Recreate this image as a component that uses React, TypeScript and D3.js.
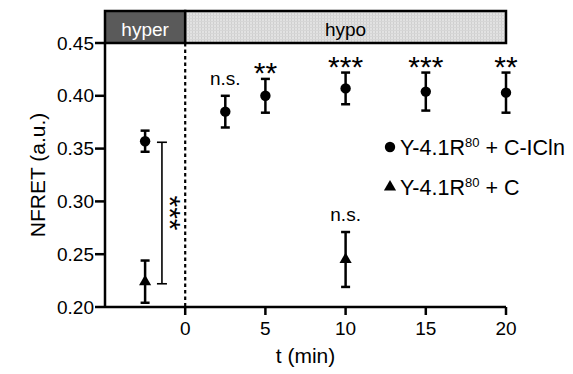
import React from "react";
import * as d3 from "d3";

const circleTimes = [-2.5, 2.5, 5, 10, 15, 20];
const circleMeans = [0.357, 0.385, 0.4, 0.407, 0.404, 0.403];
const circleErrs = [0.01, 0.015, 0.016, 0.015, 0.018, 0.019];
const circleLabels = ["", "n.s.", "**", "***", "***", "**"];

const triTimes = [-2.5, 10];
const triMeans = [0.224, 0.245];
const triErrs = [0.02, 0.026];
const triLabels = ["", "n.s."];

const yTicks = [0.2, 0.25, 0.3, 0.35, 0.4, 0.45];
const xTicks = [0, 5, 10, 15, 20];

const phases = [
  { name: "hyper", start: -5, end: 0 },
  { name: "hypo", start: 0, end: 20 },
];

const bracket = { t: -1.45, top: 0.356, bottom: 0.222, label: "***" };

const legendItems = ["C-ICln", "C"];

const FONT = "'Liberation Sans', Arial, sans-serif";

export default function App() {
  const x = d3.scaleLinear().domain([-5, 20]).range([105, 506]);
  const y = d3.scaleLinear().domain([0.2, 0.45]).range([307, 43]);
  const barTop = 11;
  const cap = 4.5;
  const tri = d3.symbol().type(d3.symbolTriangle).size(64)() as string;

  const errBar = (t: number, m: number, e: number, k: string) => (
    <g key={k} stroke="#000" strokeWidth={2.5}>
      <line x1={x(t)} x2={x(t)} y1={y(m + e)} y2={y(m - e)} />
      <line x1={x(t) - cap} x2={x(t) + cap} y1={y(m + e)} y2={y(m + e)} />
      <line x1={x(t) - cap} x2={x(t) + cap} y1={y(m - e)} y2={y(m - e)} />
    </g>
  );

  const label = (t: number, m: number, e: number, s: string, k: string) => {
    if (!s) return null;
    const top = y(m + e);
    if (s === "n.s.")
      return (
        <text key={k} x={x(t)} y={top - 11} textAnchor="middle" fontSize={19}>
          {s}
        </text>
      );
    return (
      <text key={k} x={x(t)} y={top + 4} textAnchor="middle" fontSize={30}>
        {s}
      </text>
    );
  };

  return (
    <svg
      width={573}
      height={374}
      style={{ position: "absolute", left: 0, top: 0, background: "#fff" }}
      fontFamily={FONT}
    >
      <defs>
        <pattern id="stip" width="3" height="3" patternUnits="userSpaceOnUse">
          <rect width="3" height="3" fill="#e2e2e2" />
          <rect width="1" height="3" fill="#cfcfcf" />
          <rect width="3" height="1" fill="#d6d6d6" />
        </pattern>
      </defs>

      {/* phase header */}
      {phases.map((p) => (
        <g key={p.name}>
          <rect
            x={x(p.start)}
            y={barTop}
            width={x(p.end) - x(p.start)}
            height={y(0.45) - barTop}
            fill={p.name === "hyper" ? "#5a5a5a" : "url(#stip)"}
            stroke="#000"
            strokeWidth={2.5}
          />
          <text
            x={(x(p.start) + x(p.end)) / 2}
            y={barTop + 25}
            textAnchor="middle"
            fontSize={19}
            fill={p.name === "hyper" ? "#fff" : "#000"}
          >
            {p.name}
          </text>
        </g>
      ))}

      {/* dotted line at 0 */}
      <line
        x1={x(0)}
        x2={x(0)}
        y1={y(0.45)}
        y2={y(0.2)}
        stroke="#000"
        strokeWidth={2.2}
        strokeDasharray="3.5,3"
      />

      {/* axes */}
      <line x1={x(-5)} x2={x(-5)} y1={y(0.45)} y2={y(0.2)} stroke="#000" strokeWidth={2.5} />
      <line x1={x(-5)} x2={x(20)} y1={y(0.2)} y2={y(0.2)} stroke="#000" strokeWidth={2.5} />
      {yTicks.map((v) => (
        <g key={v}>
          <line x1={x(-5) - 10} x2={x(-5)} y1={y(v)} y2={y(v)} stroke="#000" strokeWidth={2.5} />
          <text x={x(-5) - 11} y={y(v) + 6.5} textAnchor="end" fontSize={19}>
            {d3.format(".2f")(v)}
          </text>
        </g>
      ))}
      {xTicks.map((v) => (
        <g key={v}>
          <line x1={x(v)} x2={x(v)} y1={y(0.2)} y2={y(0.2) + 8} stroke="#000" strokeWidth={2.5} />
          <text x={x(v)} y={335} textAnchor="middle" fontSize={19}>
            {v}
          </text>
        </g>
      ))}
      <text x={(x(-5) + x(20)) / 2} y={363} textAnchor="middle" fontSize={21}>
        t (min)
      </text>
      <text
        transform={`translate(45,${(y(0.2) + y(0.45)) / 2}) rotate(-90)`}
        textAnchor="middle"
        fontSize={21}
      >
        NFRET (a.u.)
      </text>

      {/* error bars & points */}
      {circleTimes.map((t, i) => errBar(t, circleMeans[i], circleErrs[i], "ce" + i))}
      {triTimes.map((t, i) => errBar(t, triMeans[i], triErrs[i], "te" + i))}
      {circleTimes.map((t, i) => (
        <circle key={"c" + i} cx={x(t)} cy={y(circleMeans[i])} r={5.2} fill="#000" />
      ))}
      {triTimes.map((t, i) => (
        <path key={"t" + i} d={tri} transform={`translate(${x(t)},${y(triMeans[i])})`} fill="#000" />
      ))}
      {circleTimes.map((t, i) => label(t, circleMeans[i], circleErrs[i], circleLabels[i], "cl" + i))}
      {triTimes.map((t, i) => label(t, triMeans[i], triErrs[i], triLabels[i], "tl" + i))}

      {/* bracket */}
      <g stroke="#000" strokeWidth={1.6}>
        <line x1={x(bracket.t)} x2={x(bracket.t)} y1={y(bracket.top)} y2={y(bracket.bottom)} />
        <line x1={x(bracket.t) - 5} x2={x(bracket.t) + 5} y1={y(bracket.top)} y2={y(bracket.top)} />
        <line x1={x(bracket.t) - 5} x2={x(bracket.t) + 5} y1={y(bracket.bottom)} y2={y(bracket.bottom)} />
      </g>
      <text
        transform={`translate(${x(bracket.t) - 2},${(y(bracket.top) + y(bracket.bottom)) / 2}) rotate(90)`}
        textAnchor="middle"
        fontSize={30}
      >
        {bracket.label}
      </text>

      {/* legend */}
      {legendItems.map((s, i) => (
        <g key={s} transform={`translate(390,${147 + i * 40})`}>
          {i === 0 ? (
            <circle r={5.2} fill="#000" />
          ) : (
            <path d={tri} fill="#000" />
          )}
          <text x={10} y={8} fontSize={21.5}>
            Y-4.1R
            <tspan fontSize={13} dy={-8}>80</tspan>
            <tspan dy={8}>{" + " + s}</tspan>
          </text>
        </g>
      ))}
    </svg>
  );
}
